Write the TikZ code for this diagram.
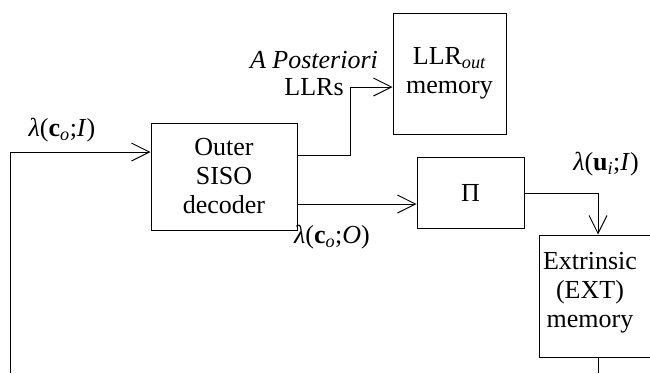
\documentclass[tikz,border=0pt]{standalone}
\usepackage{fontspec}
\setmainfont{Liberation Serif}
\usetikzlibrary{arrows.meta}
\begin{document}
\begin{tikzpicture}[x=1pt,y=-1pt,
  blk/.style={draw,line width=1pt,inner sep=0pt,align=center,font=\fontsize{26}{29}\selectfont},
  lbl/.style={inner sep=0pt,align=center,font=\fontsize{26}{27}\selectfont},
  arr/.style={line width=1pt,-{Straight Barb[length=18pt,width=18pt,line width=1pt]}},
  ln/.style={line width=1pt}]
\useasboundingbox (0,0) rectangle (650,373);
\clip (0,0) rectangle (650,373);
\node[blk,minimum width=146pt,minimum height=107pt] (outer) at (224,176.5) {Outer\\SISO\\decoder};
\node[blk,minimum width=113pt,minimum height=121pt] (llr) at (449.5,73.5) {LLR\textsubscript{\textit{out}}\\memory};
\node[blk,minimum width=107pt,minimum height=71pt] (pi) at (470.5,192.5) {Π};
\node[blk,minimum width=122pt,minimum height=122pt] (ext) at (600,296) {};
\node[lbl,font=\fontsize{26}{29}\selectfont] (exttext) at (590,293) {Extrinsic\\(EXT)\\memory};
\node[lbl] (apost) at (314,74) {\textit{A Posteriori}\\LLRs};
\node[lbl] (lci) at (62,130) {\textit{λ}(\textbf{c}\textsubscript{\textit{o}};\textit{I})};
\node[lbl] (lco) at (332,237) {\textit{λ}(\textbf{c}\textsubscript{\textit{o}};\textit{O})};
\node[lbl] (lui) at (606,164) {\textit{λ}(\textbf{u}\textsubscript{\textit{i}};\textit{I})};
\coordinate (inb) at (10,373);
\coordinate (extb) at (598,373);
\draw[arr] (inb) |- (outer.west |- 0,152);
\draw[arr] (outer.east |- 0,155) -- (350,155) |- (llr.west |- 0,87);
\draw[arr] (outer.east |- 0,204) -- (pi.west |- 0,204);
\draw[arr] (pi.east |- 0,193) -| (ext.north -| 598,0);
\draw[ln] (ext.south -| 598,0) -- (extb);
\end{tikzpicture}
\end{document}
